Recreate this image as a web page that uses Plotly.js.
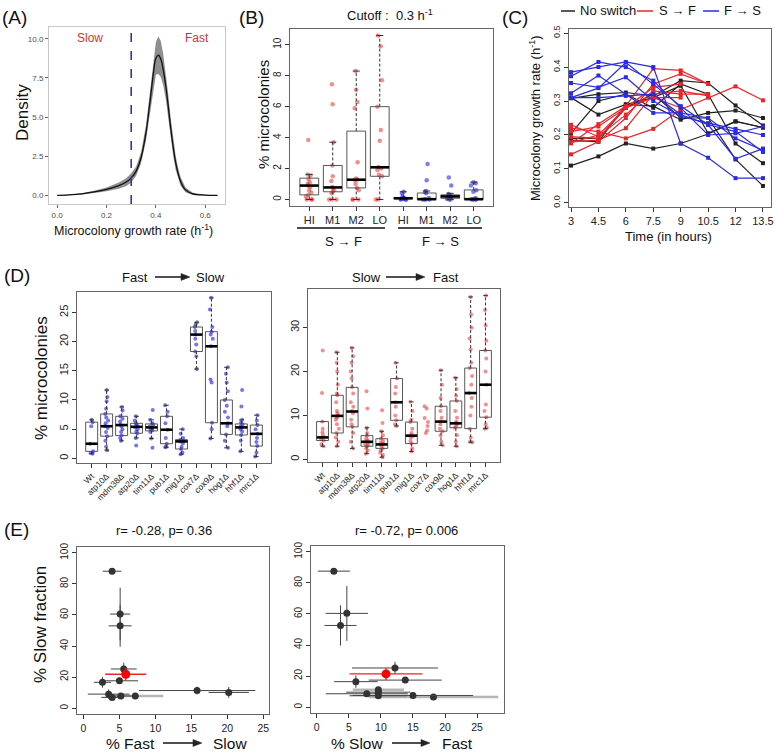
<!DOCTYPE html>
<html><head><meta charset="utf-8">
<script src="https://cdn.plot.ly/plotly-3.0.1.min.js"></script>
<style>html,body{margin:0;padding:0;background:#fff}#chart{width:775px;height:754px}</style>
</head><body><div id="chart"></div>
<script>
// ===== Panel A: density of microcolony growth rate =====
const densX     = [0, 0.05, 0.1, 0.15, 0.2, 0.25, 0.28, 0.3, 0.32, 0.34, 0.36, 0.37, 0.38, 0.39, 0.40, 0.41, 0.42, 0.43, 0.44, 0.45, 0.46, 0.47, 0.48, 0.49, 0.50, 0.52, 0.55, 0.60, 0.65];
const densMean  = [0.0, 0.03, 0.1, 0.22, 0.38, 0.62, 0.85, 1.12, 1.55, 2.4, 4.0, 5.2, 6.5, 7.8, 8.75, 8.95, 8.7, 8.0, 7.0, 5.7, 4.3, 3.1, 2.1, 1.4, 0.9, 0.35, 0.1, 0.02, 0.0];
const densUpper = [0.0, 0.05, 0.14, 0.29, 0.5, 0.82, 1.1, 1.42, 1.85, 2.75, 4.5, 5.8, 7.25, 8.7, 9.8, 10.15, 9.85, 9.0, 7.85, 6.45, 4.95, 3.65, 2.55, 1.75, 1.18, 0.5, 0.17, 0.04, 0.0];
const densLower = [0.0, 0.01, 0.06, 0.15, 0.26, 0.42, 0.6, 0.82, 1.25, 2.05, 3.5, 4.6, 5.75, 6.9, 7.7, 7.75, 7.55, 7.0, 6.15, 4.95, 3.65, 2.55, 1.65, 1.05, 0.62, 0.2, 0.03, 0.0, 0.0];
const cutoff = 0.3;

// ===== Panel B: % microcolonies switching, by glucose level =====
const bLevels = ['HI', 'M1', 'M2', 'LO'];
const bS2F_pts = [
  [3.85, 1.62, 1.55, 1.3, 1.1, 1.0, 0.9, 0.8, 0.6, 0.45, 0.3, 0.2, 0.0, 0.0, 0.0],
  [7.45, 6.15, 3.7, 2.2, 1.5, 1.2, 0.8, 0.75, 0.6, 0.5, 0.4, 0.0, 0.0, 0.0],
  [8.3, 7.1, 6.3, 5.9, 2.4, 1.35, 1.3, 1.25, 1.0, 0.75, 0.6, 0.0, 0.0, 0.0],
  [10.6, 9.9, 7.7, 6.0, 4.5, 3.8, 2.1, 2.0, 1.9, 1.6, 1.5, 0.0, 0.0]
];
const bF2S_pts = [
  [0.5, 0.4, 0.2, 0.1, 0.08, 0.06, 0.05, 0.03, 0.0, 0.0, 0.0],
  [2.3, 1.25, 0.55, 0.5, 0.4, 0.1, 0.02, 0.0, 0.0, 0.0],
  [1.42, 0.9, 0.35, 0.3, 0.25, 0.2, 0.15, 0.1, 0.05, 0.0, 0.0],
  [1.12, 1.05, 0.9, 0.6, 0.5, 0.1, 0.02, 0.0, 0.0, 0.0]
];
const bS2F_lo  = [0, 0, 0, 0];
const bS2F_q1  = [0.3, 0.5, 0.75, 1.5];
const bS2F_med = [0.9, 0.78, 1.28, 2.08];
const bS2F_q3  = [1.38, 2.2, 4.42, 6.0];
const bS2F_hi  = [1.62, 3.7, 8.3, 10.6];
const bF2S_lo  = [0, 0, 0, 0];
const bF2S_q1  = [0.05, 0.0, 0.08, 0.0];
const bF2S_med = [0.08, 0.02, 0.2, 0.02];
const bF2S_q3  = [0.12, 0.42, 0.3, 0.62];
const bF2S_hi  = [0.5, 0.55, 0.4, 1.12];

// ===== Panel C: growth-rate trajectories =====
const cTimes = [3, 4.5, 6, 7.5, 9, 10.5, 12, 13.5];
const cNoSwitch = [
  [0.11, 0.137, 0.175, 0.16, 0.175, 0.203, 0.24, 0.222],
  [0.31, 0.26, 0.29, 0.285, 0.245, 0.265, 0.272, 0.25],
  [0.308, 0.32, 0.325, 0.315, 0.36, 0.353, 0.287, 0.228],
  [0.205, 0.30, 0.32, 0.28, 0.35, 0.32, 0.175, 0.117],
  [0.19, 0.19, 0.28, 0.32, 0.25, 0.25, 0.128, 0.05],
  [0.185, 0.18, 0.29, 0.31, 0.345, 0.205, 0.24, 0.222]
];
const cSlowToFast = [
  [0.143, 0.18, 0.25, 0.35, 0.38, 0.35, null, null],
  [0.175, 0.232, 0.285, 0.395, 0.39, 0.35, null, null],
  [0.22, 0.21, 0.19, 0.218, 0.275, 0.31, 0.343, 0.302],
  [0.23, 0.195, 0.26, 0.33, 0.32, 0.32, null, null],
  [0.18, 0.185, 0.22, 0.32, 0.33, 0.315, null, null],
  [0.21, 0.225, 0.28, 0.31, 0.31, null, null, null],
  [0.195, 0.19, 0.28, 0.34, 0.35, null, null, null],
  [0.178, 0.2, 0.28, 0.31, 0.28, null, null, null]
];
const cFastToSlow = [
  [0.373, 0.415, 0.4, 0.36, 0.28, 0.2, 0.205, 0.225],
  [0.385, 0.40, 0.415, 0.40, 0.175, 0.133, 0.073, 0.073],
  [0.353, 0.34, 0.37, 0.30, 0.255, 0.235, 0.218, 0.2],
  [0.323, 0.375, 0.32, 0.265, 0.265, 0.25, 0.19, 0.155],
  [0.31, 0.338, 0.413, 0.35, 0.285, 0.23, 0.13, 0.16],
  [0.31, 0.31, 0.315, 0.32, 0.26, 0.23, 0.21, 0.15]
];

// ===== Panel D: mutants =====
const dStrains = ['Wt', 'atp10Δ', 'mdm38Δ', 'atp20Δ', 'tim11Δ', 'pub1Δ', 'mig1Δ', 'cox7Δ', 'cox9Δ', 'hog1Δ', 'hhf1Δ', 'mrc1Δ'];
const dF2S_pts = [
  [6.6, 6.2, 5.5, 2.5, 1.2, 0.9, 0.8],
  [11.7, 10.5, 9.8, 8.5, 7.6, 7.0, 6.5, 6.0, 5.5, 5.2, 4.5, 3.8, 3.0, 2.0, 1.4],
  [8.8, 8.2, 7.2, 6.8, 6.3, 5.8, 5.5, 5.0, 4.5, 3.9, 3.5, 3.0],
  [7.2, 6.5, 6.0, 5.8, 5.5, 5.3, 5.0, 4.6, 4.3, 3.5, 2.2],
  [8.3, 6.6, 6.0, 5.8, 5.5, 5.3, 5.2, 5.0, 4.8, 4.5, 3.4, 1.8],
  [9.1, 8.0, 7.2, 6.0, 4.9, 3.5, 2.5, 2.0, 1.9],
  [5.0, 4.2, 3.5, 3.2, 3.0, 2.9, 2.6, 2.0, 1.6, 1.0, 0.7],
  [23.3, 22.9, 22.5, 21.8, 21.2, 20.5, 19.5, 18.3, 17.5, 15.3],
  [27.5, 25.5, 22.5, 21.7, 21.2, 20.5, 19.2, 13.5, 13.0, 6.1, 5.0, 3.4],
  [15.6, 14.5, 13.0, 11.5, 10.0, 9.0, 8.0, 7.0, 6.0, 5.5, 4.1, 3.0, 1.8],
  [11.7, 8.9, 6.6, 6.2, 5.8, 5.5, 5.3, 5.0, 4.6, 4.0, 3.0, 1.2],
  [7.4, 6.5, 5.7, 5.0, 4.2, 3.5, 2.8, 2.1, 1.0, 0.3]
];
const dF2S_lo  = [0.8, 1.4, 3.0, 3.5, 3.4, 1.9, 0.7, 15.3, 3.4, 1.8, 1.2, 0.3];
const dF2S_q1  = [1.2, 3.8, 3.9, 4.3, 4.7, 2.5, 1.6, 18.3, 6.1, 4.1, 4.0, 2.1];
const dF2S_med = [2.5, 5.5, 5.7, 5.4, 5.3, 4.9, 2.9, 21.2, 19.2, 6.0, 5.3, 4.2];
const dF2S_q3  = [6.2, 7.6, 7.2, 6.0, 5.9, 7.2, 3.2, 22.5, 21.7, 10.0, 5.9, 5.7];
const dF2S_hi  = [6.6, 11.7, 8.8, 7.2, 6.6, 9.1, 5.0, 23.3, 27.5, 15.6, 6.6, 7.4];

const dS2F_pts = [
  [24.8, 15.1, 8.6, 7.0, 6.2, 5.5, 5.0, 4.6, 4.3, 3.5, 3.0],
  [24.4, 22.0, 20.0, 17.0, 15.0, 14.6, 13.0, 11.0, 10.5, 10.0, 9.9, 9.5, 9.0, 8.0, 7.0, 6.0, 5.0, 4.0, 3.0],
  [25.4, 23.5, 22.0, 20.0, 18.5, 16.4, 15.0, 13.0, 12.0, 11.0, 10.5, 9.0, 8.0, 7.4, 6.0, 4.0, 2.5],
  [15.5, 11.6, 7.2, 6.0, 5.4, 4.8, 4.3, 4.1, 4.0, 3.8, 3.5, 3.2, 3.0, 2.5, 2.0, 1.3],
  [11.2, 8.3, 6.4, 5.5, 4.7, 4.2, 3.8, 3.6, 3.4, 3.0, 2.5, 2.0, 1.5, 1.0, 0.5],
  [22.0, 18.4, 16.5, 15.0, 13.0, 12.0, 10.0, 8.9, 8.0, 7.6],
  [13.1, 11.0, 9.0, 8.5, 7.0, 6.0, 5.5, 5.3, 5.0, 4.2, 3.6, 2.5, 1.8],
  [12.1, 11.6, 9.4, 8.5, 7.6, 6.6, 6.0],
  [20.3, 17.0, 14.0, 12.1, 11.0, 9.5, 8.6, 8.0, 7.0, 6.4, 5.5, 4.0, 3.2],
  [18.6, 16.0, 14.5, 13.3, 11.0, 9.5, 8.5, 8.4, 8.0, 7.5, 7.2, 5.5, 4.0, 3.0],
  [37.0, 33.0, 30.0, 27.5, 25.0, 22.0, 20.8, 19.0, 17.0, 15.1, 14.0, 12.0, 10.0, 7.0, 5.0, 4.0, 3.9],
  [37.3, 34.0, 30.5, 27.0, 24.8, 23.0, 20.0, 17.0, 12.5, 11.0, 9.6, 8.0, 7.2, 7.0]
];
const dS2F_lo  = [3.0, 3.0, 2.5, 1.3, 0.5, 7.6, 1.8, null, 3.2, 3.0, 3.9, 7.0];
const dS2F_q1  = [4.3, 6.0, 7.4, 3.0, 2.5, 8.9, 3.6, null, 6.4, 7.2, 7.0, 9.6];
const dS2F_med = [5.0, 9.9, 10.9, 4.0, 3.4, 13.0, 5.4, null, 8.6, 8.2, 15.1, 17.0];
const dS2F_q3  = [8.6, 14.6, 16.4, 5.4, 4.7, 18.4, 8.5, null, 12.1, 13.3, 20.8, 24.8];
const dS2F_hi  = [8.6, 24.4, 25.4, 7.2, 6.4, 22.0, 13.1, null, 20.3, 18.6, 37.0, 37.3];

// ===== Panel E: switching vs slow fraction =====
// left: % Fast -> Slow
const eL_x  = [3.98, 5.1, 5.1, 5.6, 2.64, 5.0, 3.5, 3.98, 5.2, 15.8, 20.2];
const eL_y  = [88.2, 60.6, 53.0, 25.2, 16.6, 17.6, 9.0, 6.9, 7.8, 11.3, 10.1];
const eL_xe = [1.3, 1.4, 1.6, 1.8, 1.2, 2.6, 2.9, 1.5, 1.5, 8.1, 2.8];
const eL_ye = [1.5, 17.0, 13.5, 4.0, 3.5, 2.0, 3.0, 2.0, 2.0, 2.5, 3.5];
const eL_gx = [7.2], eL_gy = [7.8], eL_gxe = [3.9], eL_gye = [2.0];
const eL_wx = [5.88], eL_wy = [21.8], eL_wxe = [2.85], eL_wye = [4.0];
// right: % Slow -> Fast
const eR_x  = [2.66, 4.69, 3.7, 12.2, 6.1, 13.8, 9.6, 9.6, 7.8, 15.0];
const eR_y  = [87.6, 60.4, 52.6, 25.2, 16.4, 17.4, 9.6, 7.3, 8.6, 7.5];
const eR_xe = [2.5, 3.3, 2.5, 6.7, 3.4, 5.7, 5.0, 4.5, 6.4, 9.4];
const eR_ye = [1.5, 17.7, 13.0, 4.0, 4.0, 2.0, 2.0, 2.0, 2.0, 2.0];
const eR_gx = [9.6, 18.2], eR_gy = [11.1, 6.5], eR_gxe = [4.0, 10.1], eR_gye = [2.0, 2.0];
const eR_wx = [10.8], eR_wy = [21.4], eR_wxe = [5.7], eR_wye = [4.0];

// ================= drawing =================
const W = 775, H = 754;
const F = 'Liberation Sans, Arial, Helvetica, sans-serif';
const xd = (a, b) => [a / W, b / W];
const yd = (top, bot) => [1 - bot / H, 1 - top / H];
const RED = '#e8262a', BLUE = '#2b2be0', BLACK = '#222';

function boxTraces(xa, ya, lo, q1, med, q3, hi, offset) {
  const halfW = 0.4, capW = 0.15;
  const rx = [], ry = [], mx = [], my = [], wx = [], wy = [], cx = [], cy = [];
  for (let i = 0; i < q1.length; i++) {
    if (q1[i] === null) continue;
    const p = i + 1 + offset;
    rx.push(p - halfW, p + halfW, p + halfW, p - halfW, p - halfW, null);
    ry.push(q1[i], q1[i], q3[i], q3[i], q1[i], null);
    mx.push(p - halfW, p + halfW, null); my.push(med[i], med[i], null);
    wx.push(p, p, null, p, p, null); wy.push(lo[i], q1[i], null, q3[i], hi[i], null);
    cx.push(p - capW, p + capW, null, p - capW, p + capW, null); cy.push(lo[i], lo[i], null, hi[i], hi[i], null);
  }
  const base = {type: 'scatter', mode: 'lines', xaxis: xa, yaxis: ya, hoverinfo: 'skip', showlegend: false};
  return [
    Object.assign({}, base, {x: wx, y: wy, line: {color: '#333', width: 1, dash: '3px,2px'}}),
    Object.assign({}, base, {x: cx, y: cy, line: {color: '#333', width: 1}}),
    Object.assign({}, base, {x: rx, y: ry, line: {color: '#444', width: 0.9}}),
    Object.assign({}, base, {x: mx, y: my, line: {color: '#000', width: 2.6}})
  ];
}
function jitterPts(xa, ya, groups, offset, color, jitter, size) {
  const x = [], y = [];
  groups.forEach((g, i) => g.forEach(v => { x.push(i + 1 + offset); y.push(v); }));
  return {type: 'box', x: x, y: y, xaxis: xa, yaxis: ya, boxpoints: 'all', jitter: jitter, pointpos: 0,
          width: 0.8, fillcolor: 'rgba(0,0,0,0)', line: {color: 'rgba(0,0,0,0)', width: 0},
          marker: {color: color, size: size, line: {width: 0}}, hoverinfo: 'skip', showlegend: false};
}

const traces = [];
// A
traces.push({type: 'scatter', mode: 'lines', x: densX, y: densLower, line: {width: 0, color: '#888'}, xaxis: 'x', yaxis: 'y', hoverinfo: 'skip'});
traces.push({type: 'scatter', mode: 'lines', x: densX, y: densUpper, fill: 'tonexty', fillcolor: '#8e8e8e', line: {width: 0, color: '#888'}, xaxis: 'x', yaxis: 'y', hoverinfo: 'skip'});
traces.push({type: 'scatter', mode: 'lines', x: densX, y: densMean, line: {width: 1.3, color: '#111', shape: 'spline'}, xaxis: 'x', yaxis: 'y'});

// B
traces.push(...boxTraces('x2', 'y2', bS2F_lo, bS2F_q1, bS2F_med, bS2F_q3, bS2F_hi, 0));
traces.push(...boxTraces('x2', 'y2', bF2S_lo, bF2S_q1, bF2S_med, bF2S_q3, bF2S_hi, 4));
traces.push(jitterPts('x2', 'y2', bS2F_pts, 0, 'rgba(232,50,50,0.55)', 0.45, 4.5));
traces.push(jitterPts('x2', 'y2', bF2S_pts, 4, 'rgba(40,40,230,0.6)', 0.45, 4.5));

// C
[[cNoSwitch, BLACK], [cSlowToFast, RED], [cFastToSlow, BLUE]].forEach(([set, col]) => {
  set.forEach(s => traces.push({type: 'scatter', mode: 'lines+markers', x: cTimes, y: s, xaxis: 'x3', yaxis: 'y3',
    line: {color: col, width: 1.2}, marker: {color: col, size: 4, symbol: 'square'}, connectgaps: false, showlegend: false}));
});

// D
traces.push(...boxTraces('x4', 'y4', dF2S_lo, dF2S_q1, dF2S_med, dF2S_q3, dF2S_hi, 0));
traces.push(jitterPts('x4', 'y4', dF2S_pts, 0, 'rgba(45,45,225,0.65)', 0.3, 4));
traces.push(...boxTraces('x5', 'y5', dS2F_lo, dS2F_q1, dS2F_med, dS2F_q3, dS2F_hi, 0));
traces.push(jitterPts('x5', 'y5', dS2F_pts, 0, 'rgba(232,50,50,0.55)', 0.3, 4));

// E
function errPts(xa, ya, x, y, xe, ye, barCol, barW, ptCol, ptSize) {
  return {type: 'scatter', mode: 'markers', x: x, y: y, xaxis: xa, yaxis: ya,
    error_x: {type: 'data', array: xe, color: barCol, thickness: barW, width: 0},
    error_y: {type: 'data', array: ye, color: barCol, thickness: barW, width: 0},
    marker: {color: ptCol, size: ptSize}, showlegend: false};
}
traces.push(errPts('x6', 'y6', eL_gx, eL_gy, eL_gxe, eL_gye, '#b5b5b5', 2.5, '#333', 7));
traces.push(errPts('x6', 'y6', eL_x, eL_y, eL_xe, eL_ye, '#444', 1, '#333', 7));
traces.push(errPts('x6', 'y6', eL_wx, eL_wy, eL_wxe, eL_wye, RED, 1.3, '#f00', 9));
traces.push(errPts('x7', 'y7', eR_gx, eR_gy, eR_gxe, eR_gye, '#b5b5b5', 2.5, '#333', 7));
traces.push(errPts('x7', 'y7', eR_x, eR_y, eR_xe, eR_ye, '#444', 1, '#333', 7));
traces.push(errPts('x7', 'y7', eR_wx, eR_wy, eR_wxe, eR_wye, RED, 1.3, '#f00', 9));

// ---- axes
function axis(extra) {
  return Object.assign({showgrid: false, zeroline: false, showline: true, mirror: true, linecolor: '#666', linewidth: 1,
    ticks: 'outside', ticklen: 4, tickwidth: 1, tickcolor: '#333', tickfont: {family: F, size: 10, color: '#222'}, fixedrange: true}, extra);
}
const idx8 = bLevels.concat(bLevels).map((_, i) => i + 1);
const idx12 = dStrains.map((_, i) => i + 1);
const layout = {
  width: W, height: H, margin: {l: 0, r: 0, t: 0, b: 0}, paper_bgcolor: '#fff', plot_bgcolor: '#fff',
  showlegend: false, boxmode: 'overlay', font: {family: F, color: '#222'},
  // A
  xaxis: axis({domain: xd(49, 225), range: [-0.033, 0.68], anchor: 'y', tickvals: [0, 0.2, 0.4, 0.6], ticktext: ['0.0', '0.2', '0.4', '0.6'],
    linecolor: '#c8c8c8', ticklen: 3, tickcolor: '#666', tickfont: {family: F, size: 8, color: '#4d4d4d'}}),
  yaxis: axis({domain: yd(27, 204), range: [-0.55, 10.75], anchor: 'x', tickvals: [0, 2.5, 5, 7.5, 10], ticktext: ['0.0', '2.5', '5.0', '7.5', '10.0'],
    linecolor: '#c8c8c8', ticklen: 3, tickcolor: '#666', tickfont: {family: F, size: 8, color: '#4d4d4d'}}),
  // B
  xaxis2: axis({domain: xd(290, 493), range: [0.18, 8.82], anchor: 'y2', tickvals: idx8, ticktext: bLevels.concat(bLevels), tickfont: {family: F, size: 11, color: '#222'}}),
  yaxis2: axis({domain: yd(29, 206), range: [-0.42, 11.02], anchor: 'x2', tickvals: [0, 2, 4, 6, 8, 10], tickangle: -90}),
  // C
  xaxis3: axis({domain: xd(569, 771), range: [2.89, 13.94], anchor: 'y3', tickvals: cTimes, ticktext: cTimes.map(String), tickfont: {family: F, size: 11, color: '#222'}}),
  yaxis3: axis({domain: yd(29, 207), range: [-0.012, 0.512], anchor: 'x3', tickvals: [0, 0.1, 0.2, 0.3, 0.4, 0.5], ticktext: ['0.0', '0.1', '0.2', '0.3', '0.4', '0.5'], tickangle: -90, tickfont: {family: F, size: 9, color: '#222'}}),
  // D left
  xaxis4: axis({domain: xd(77, 271), range: [0.02, 12.98], anchor: 'y4', tickvals: idx12, ticktext: dStrains, tickangle: -45, tickfont: {family: F, size: 8.5, color: '#222'}}),
  yaxis4: axis({domain: yd(292, 463), range: [-0.8, 28.5], anchor: 'x4', tickvals: [0, 5, 10, 15, 20, 25], tickangle: -90, tickfont: {family: F, size: 11, color: '#222'}}),
  // D right
  xaxis5: axis({domain: xd(308, 500), range: [0.02, 12.98], anchor: 'y5', tickvals: idx12, ticktext: dStrains, tickangle: -45, tickfont: {family: F, size: 8.5, color: '#222'}}),
  yaxis5: axis({domain: yd(289, 462), range: [-0.6, 38.8], anchor: 'x5', tickvals: [0, 10, 20, 30], tickangle: -90, tickfont: {family: F, size: 11, color: '#222'}}),
  // E left
  xaxis6: axis({domain: xd(77, 269), range: [-0.9, 25.8], anchor: 'y6', tickvals: [0, 5, 10, 15, 20, 25], tickfont: {family: F, size: 10.5, color: '#222'}}),
  yaxis6: axis({domain: yd(547, 714), range: [-3.8, 103.8], anchor: 'x6', tickvals: [0, 20, 40, 60, 80, 100], tickangle: -90, tickfont: {family: F, size: 10, color: '#222'}}),
  // E right
  xaxis7: axis({domain: xd(311, 504), range: [-0.9, 29.2], anchor: 'y7', tickvals: [0, 5, 10, 15, 20, 25], tickfont: {family: F, size: 10.5, color: '#222'}}),
  yaxis7: axis({domain: yd(546, 713), range: [-3.8, 103.8], anchor: 'x7', tickvals: [0, 20, 40, 60, 80, 100], tickangle: -90, tickfont: {family: F, size: 10, color: '#222'}})
};

function ann(text, x, y, size, opts) {
  return Object.assign({xref: 'paper', yref: 'paper', x: x / W, y: 1 - y / H, text: text, showarrow: false,
    xanchor: 'center', yanchor: 'middle', font: {family: F, size: size, color: '#111'}}, opts || {});
}
layout.annotations = [
  ann('(A)', 0, 17, 19, {xanchor: 'left'}),
  ann('(B)', 237, 17, 19, {xanchor: 'left'}),
  ann('(C)', 500, 17, 19, {xanchor: 'left'}),
  ann('(D)', 2, 275, 19, {xanchor: 'left'}),
  ann('(E)', 2, 529, 19, {xanchor: 'left'}),
  // A
  ann('Density', 22, 113, 17, {textangle: -90}),
  ann('Microcolony growth rate (h<sup>-1</sup>)', 133, 230, 12.5),
  ann('Slow', 90, 38, 12, {font: {family: F, size: 12, color: '#e03030'}}),
  ann('Fast', 197, 38, 12, {font: {family: F, size: 12, color: '#e03030'}}),
  // B
  ann('Cutoff :  0.3 h<sup>-1</sup>', 390, 15, 13),
  ann('% microcolonies', 263, 115, 15, {textangle: -90}),
  ann('S → F', 343, 242, 13),
  ann('F → S', 440, 242, 13),
  // C
  ann('No switch', 578, 11, 13, {xanchor: 'left'}),
  ann('S → F', 657, 11, 13, {xanchor: 'left'}),
  ann('F → S', 722, 11, 13, {xanchor: 'left'}),
  ann('Microcolony growth rate (h<sup>-1</sup>)', 535, 118, 13, {textangle: -90}),
  ann('Time (in hours)', 668, 237, 13),
  // D
  ann('Fast', 135, 277, 13), ann('Slow', 210, 277, 13),
  ann('Slow', 366, 277, 13), ann('Fast', 446, 277, 13),
  ann('% microcolonies', 41, 378, 17, {textangle: -90}),
  // E
  ann('r= -0.28, p= 0.36', 164, 530, 13),
  ann('r= -0.72, p= 0.006', 406, 530, 13),
  ann('% Slow fraction', 40, 625, 17, {textangle: -90}),
  ann('% Fast', 130, 743, 15.5), ann('Slow', 230, 743, 15.5),
  ann('% Slow', 357, 743, 15.5), ann('Fast', 457, 743, 15.5)
];
function pline(x0, x1, y, col, w) {
  return {type: 'line', xref: 'paper', yref: 'paper', x0: x0 / W, x1: x1 / W, y0: 1 - y / H, y1: 1 - y / H, line: {color: col, width: w}};
}
function arrowShapes(x0, x1, y) {
  const px = v => (v / W).toFixed(5), py = v => (1 - v / H).toFixed(5);
  return [
    pline(x0, x1 - 7, y, '#222', 1.6),
    {type: 'path', xref: 'paper', yref: 'paper', path: 'M' + px(x1 - 9) + ',' + py(y - 3.5) + ' L' + px(x1) + ',' + py(y) + ' L' + px(x1 - 9) + ',' + py(y + 3.5) + ' Z',
     fillcolor: '#222', line: {color: '#222', width: 0.5}}
  ];
}
layout.shapes = [
  {type: 'line', xref: 'x', yref: 'y domain', x0: cutoff, x1: cutoff, y0: 0, y1: 1, line: {color: '#2c3a9a', width: 1.6, dash: 'dash'}},
  pline(297, 385, 228, '#111', 1.5), pline(398, 482, 228, '#111', 1.5),
  pline(561, 575, 11, BLACK, 1.5), pline(637, 653, 11, RED, 1.5), pline(703, 719, 11, BLUE, 1.5)
].concat(arrowShapes(155, 190, 277), arrowShapes(386, 425, 277), arrowShapes(163, 202, 743), arrowShapes(392, 430, 743));

Plotly.newPlot('chart', traces, layout, {staticPlot: true, displayModeBar: false});
</script></body></html>
